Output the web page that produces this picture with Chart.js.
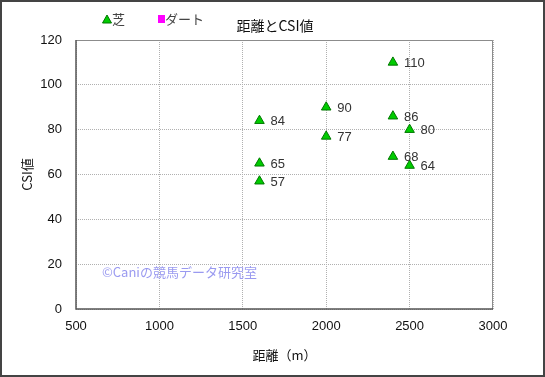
<!DOCTYPE html>
<html>
<head>
<meta charset="utf-8">
<script src="https://cdn.jsdelivr.net/npm/chart.js@4"></script>
<style>
html,body{margin:0;padding:0;background:#fff;}
#wrap{width:545px;height:377px;position:relative;}
</style>
</head>
<body>
<div id="wrap"><canvas id="c" width="545" height="377"></canvas></div>
<script>
// Data
const turfDistance = [1600, 1600, 1600, 2000, 2000, 2400, 2400, 2400, 2500, 2500];
const turfCSI = [84, 65, 57, 90, 77, 110, 86, 68, 80, 64];
const dirtDistance = [];
const dirtCSI = [];
const xTicks = [500, 1000, 1500, 2000, 2500, 3000];
const yTicks = [0, 20, 40, 60, 80, 100, 120];
const seriesNames = ['芝', 'ダート'];
const chartTitle = '距離とCSI値';
const xTitle = '距離（m）';
const yTitle = 'CSI値';
const watermark = '©Caniの競馬データ研究室';

const FONT = '"Liberation Sans", "Noto Sans CJK JP", sans-serif';
const JFONT = '"Noto Sans CJK JP", "Liberation Sans", sans-serif';

const toPoints = (xs, ys) => xs.map((x, i) => ({x: x, y: ys[i]}));

const decor = {
  id: 'decor',
  beforeDraw(chart) {
    const ctx = chart.ctx;
    ctx.save();
    ctx.fillStyle = '#fff';
    ctx.fillRect(0, 0, chart.width, chart.height);
    ctx.restore();
  },
  afterDatasetsDraw(chart) {
    const ctx = chart.ctx;
    ctx.save();
    ctx.font = '13px ' + FONT;
    ctx.fillStyle = '#333';
    ctx.textBaseline = 'middle';
    ctx.textAlign = 'left';
    chart.data.datasets.forEach((ds, di) => {
      const meta = chart.getDatasetMeta(di);
      meta.data.forEach((el, i) => {
        ctx.fillText(String(ds.data[i].y), el.x + 11, el.y + 1);
      });
    });
    ctx.restore();
  },
  afterDraw(chart) {
    const ctx = chart.ctx;
    const a = chart.chartArea;
    ctx.save();
    // plot frame top/right
    ctx.strokeStyle = '#8c8c8c';
    ctx.lineWidth = 1;
    ctx.beginPath();
    ctx.moveTo(a.left, a.top + 0.5);
    ctx.lineTo(a.right - 0.5, a.top + 0.5);
    ctx.lineTo(a.right - 0.5, a.bottom);
    ctx.stroke();
    // axes left/bottom
    ctx.strokeStyle = '#555';
    ctx.lineWidth = 1.5;
    ctx.beginPath();
    ctx.moveTo(a.left, a.top);
    ctx.lineTo(a.left, a.bottom);
    ctx.lineTo(a.right, a.bottom);
    ctx.stroke();

    // title
    ctx.fillStyle = '#111';
    ctx.font = '14px ' + JFONT;
    ctx.textAlign = 'center';
    ctx.textBaseline = 'middle';
    ctx.fillText(chartTitle, 275, 26);

    // legend
    ctx.textAlign = 'left';
    ctx.font = '13px ' + JFONT;
    ctx.fillStyle = '#00cc00';
    ctx.strokeStyle = '#007700';
    ctx.lineWidth = 1;
    ctx.beginPath();
    ctx.moveTo(107, 15);
    ctx.lineTo(111.5, 23);
    ctx.lineTo(102.5, 23);
    ctx.closePath();
    ctx.fill();
    ctx.stroke();
    ctx.fillStyle = '#444';
    ctx.fillText(seriesNames[0], 112, 19.5);
    ctx.fillStyle = '#ff00ff';
    ctx.fillRect(158, 15, 7, 8);
    ctx.fillStyle = '#444';
    ctx.fillText(seriesNames[1], 165, 19.5);

    // watermark
    ctx.fillStyle = '#9a9af0';
    ctx.font = '13px ' + JFONT;
    ctx.fillText(watermark, 102, 272);

    // outer frame
    ctx.strokeStyle = '#444';
    ctx.lineWidth = 2;
    ctx.strokeRect(1, 1, chart.width - 2, chart.height - 2);
    ctx.restore();
  }
};

new Chart(document.getElementById('c'), {
  type: 'scatter',
  data: {
    datasets: [
      {
        label: seriesNames[0],
        data: toPoints(turfDistance, turfCSI),
        pointStyle: 'triangle',
        pointRadius: 5.5,
        pointHoverRadius: 5.5,
        backgroundColor: '#00cc00',
        borderColor: '#007700',
        borderWidth: 1
      },
      {
        label: seriesNames[1],
        data: toPoints(dirtDistance, dirtCSI),
        pointStyle: 'rect',
        pointRadius: 4,
        backgroundColor: '#ff00ff',
        borderColor: '#ff00ff'
      }
    ]
  },
  options: {
    responsive: false,
    animation: false,
    events: [],
    layout: {padding: {left: 0, right: 52, top: 40, bottom: 0}},
    plugins: {legend: {display: false}, title: {display: false}, tooltip: {enabled: false}},
    scales: {
      x: {
        type: 'linear',
        min: xTicks[0],
        max: xTicks[xTicks.length - 1],
        afterFit(s) { s.height = 68; },
        afterBuildTicks(s) { s.ticks = xTicks.map(v => ({value: v})); },
        ticks: {color: '#111', font: {family: FONT, size: 13}, padding: 10, maxRotation: 0, callback: v => String(v)},
        grid: {color: '#b0b0b0', drawTicks: false, lineWidth: 1},
        border: {display: false, dash: [1, 1]},
        title: {display: true, text: xTitle, color: '#111', font: {family: JFONT, size: 13}, padding: {top: 0, bottom: 14}}
      },
      y: {
        type: 'linear',
        min: yTicks[0],
        max: yTicks[yTicks.length - 1],
        afterFit(s) { s.width = 76; },
        afterBuildTicks(s) { s.ticks = yTicks.map(v => ({value: v})); },
        ticks: {color: '#111', font: {family: FONT, size: 13}, padding: 14, callback: v => String(v)},
        grid: {color: '#b0b0b0', drawTicks: false, lineWidth: 1},
        border: {display: false, dash: [1, 1]},
        title: {display: true, text: yTitle, color: '#111', font: {family: JFONT, size: 13}, padding: {top: 19, bottom: 0}}
      }
    }
  },
  plugins: [decor]
});
</script>
</body>
</html>
